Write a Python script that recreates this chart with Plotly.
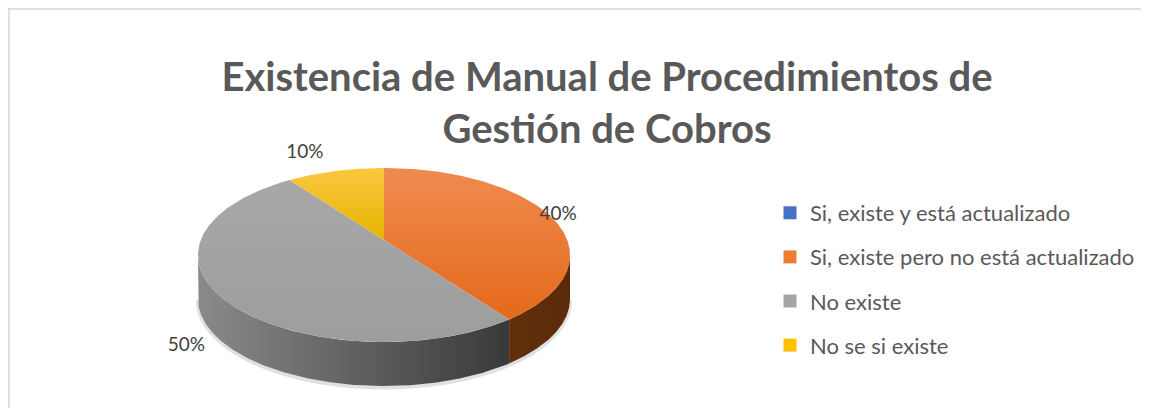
import numpy as np
import plotly.graph_objects as go

categories = [
    "Si, existe y está actualizado",
    "Si, existe pero no está actualizado",
    "No existe",
    "No se si existe",
]
values = [0, 40, 50, 10]
title_lines = ["Existencia de Manual de Procedimientos de", "Gestión de Cobros"]

top_colors = [("#5b86d6", "#3d68b8"), ("#ef8b4f", "#e4691b"), ("#a8a8a8", "#9d9d9d"), ("#fbc73f", "#e5b500")]
side_colors = [("#2f4f8a", "#22396a"), ("#61300c", "#5a2a09"), ("#8a8a8a", "#393939"), ("#b38600", "#8f6b00")]
legend_colors = ["#4472c4", "#ed7d31", "#a5a5a5", "#ffc000"]

# pie geometry in page pixels (axes are mapped 1:1 to the page)
cx, cy, rx, ry, depth = 384, 255, 186, 87, 44
persp = 0.172  # perspective: pie centre appears shifted toward the back
W, H = 1149, 416
OFF = 8  # page body margin


def project(t):
    c, s = np.cos(t), np.sin(t)
    k = 1 + persp * s
    xp = c * np.sqrt(1 - persp ** 2) / k
    yp = (s + persp) / k
    return cx + rx * xp, cy - ry * yp


def arc(t0, t1, n=200):
    return project(np.radians(np.linspace(t0, t1, n)))


fig = go.Figure()

total = sum(values)
starts, ends = [], []
a = 90.0
for v in values:
    starts.append(a)
    a -= v / total * 360
    ends.append(a)

# visible front of the side wall (in true angles)
edge = np.degrees(np.arcsin(persp))
front_hi, front_lo = -edge, -180 + edge

# soft shadow under the rim
xb, yb = arc(front_hi, front_lo)
fig.add_trace(go.Scatter(
    x=xb, y=yb + depth + 1.5, mode="lines",
    line=dict(color="rgba(0,0,0,0.12)", width=4, shape="spline"),
    hoverinfo="skip", showlegend=False,
))

for i, v in enumerate(values):
    if v == 0:
        continue
    s0, s1 = min(starts[i], front_hi), max(ends[i], front_lo)
    if s0 <= s1:
        continue
    xt, yt = arc(s0, s1)
    xs = np.concatenate([xt, xt[::-1], [xt[0]]])
    ys = np.concatenate([yt, yt[::-1] + depth, [yt[0]]])
    fig.add_trace(go.Scatter(
        x=xs, y=ys, mode="lines", fill="toself", line=dict(width=0),
        fillgradient=dict(type="horizontal", colorscale=[[0, side_colors[i][0]], [1, side_colors[i][1]]]),
        hoverinfo="skip", showlegend=False,
    ))

# top faces
ax_, ay_ = cx, cy - ry * persp
for i, v in enumerate(values):
    if v == 0:
        continue
    xa, ya = arc(starts[i], ends[i])
    xs = np.concatenate([[ax_], xa, [ax_]])
    ys = np.concatenate([[ay_], ya, [ay_]])
    fig.add_trace(go.Scatter(
        x=xs, y=ys, mode="lines", fill="toself", line=dict(width=0),
        fillgradient=dict(type="vertical", colorscale=[[0, top_colors[i][1]], [1, top_colors[i][0]]]),
        hoverinfo="skip", showlegend=False,
    ))

# data labels
lx, ly, lt = [], [], []
for i, v in enumerate(values):
    if v == 0:
        continue
    m = np.radians((starts[i] + ends[i]) / 2)
    c, s = np.cos(m), np.sin(m)
    lx.append(cx + rx * 1.08 * c - 17 - (18 if s < 0 else 0))
    ly.append(cy - ry * 1.11 * s + (depth if s < 0 else 0) - 10)
    lt.append(f"{v / total:.0%}")
fig.add_trace(go.Scatter(
    x=lx, y=ly, text=lt, mode="text",
    textfont=dict(family="Lato", size=19, color="#404040"),
    hoverinfo="skip", showlegend=False,
))

# legend entries
for i, name in enumerate(categories):
    fig.add_trace(go.Scatter(
        x=[None], y=[None], mode="markers", name=name, legendgroup=str(i),
        marker=dict(symbol="square", size=13, color=legend_colors[i]),
    ))

# keep the figure inside the window (page body has an 8px margin)
fw, fh = W - 2 * OFF, H - 2 * OFF
border = dict(color="#d4d4d4", width=1.5)
fig.update_layout(
    width=fw, height=fh,
    margin=dict(l=0, r=0, t=0, b=0),
    paper_bgcolor="white", plot_bgcolor="white",
    title=dict(
        text="<br>".join(title_lines),
        x=(607 - OFF) / fw, xanchor="center", y=1 - 83 / fh, yanchor="top",
        font=dict(family="Lato", size=40, color="#595959", weight="bold"),
    ),
    xaxis=dict(range=[OFF, OFF + fw], visible=False, fixedrange=True),
    yaxis=dict(range=[OFF + fh, OFF], visible=False, fixedrange=True),
    legend=dict(
        x=(770 - OFF) / fw, xanchor="left", y=1 - (192 - OFF) / fh, yanchor="top",
        font=dict(family="Lato", size=22, color="#595959"),
        tracegroupgap=12.5, itemwidth=30, bgcolor="rgba(0,0,0,0)",
    ),
    shapes=[
        dict(type="line", xref="paper", yref="y", x0=0, x1=1, y0=9, y1=9, line=border, layer="below"),
        dict(type="line", xref="x", yref="paper", x0=OFF + 1, x1=OFF + 1, y0=0, y1=1, line=border, layer="below"),
    ],
)

fig.write_html("out.html")
